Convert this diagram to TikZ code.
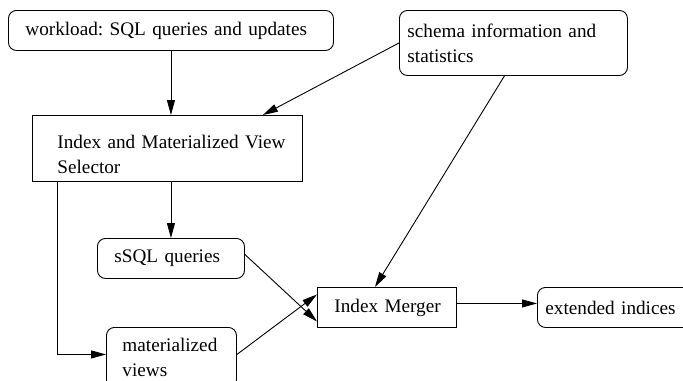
\documentclass[tikz,border=0pt]{standalone}
\usepackage{fontspec}
\setmainfont{Liberation Serif}
\usetikzlibrary{arrows.meta}
\begin{document}
\begin{tikzpicture}[x=1bp,y=-1bp,
  font=\fontsize{19.2bp}{25bp}\selectfont\frenchspacing,
  box/.style={draw, line width=0.9bp, anchor=north west, inner ysep=0pt, align=left},
  rbox/.style={box, rounded corners=8bp},
  arr/.style={line width=0.9bp, -{Triangle[length=15bp,width=8bp]}}]
\useasboundingbox (0,0) rectangle (683,380);
\clip (0,0) rectangle (683,380);
\node[rbox, inner xsep=17bp, text width=291bp, minimum height=40bp] (work) at (8,10) {\mbox{workload: SQL queries and updates}};
\node[rbox, inner xsep=8bp, text width=212bp, minimum height=65bp] (schema) at (399,10) {\mbox{schema information and}\\statistics};
\node[box, inner xsep=25bp, text width=220bp, minimum height=66bp] (sel) at (32,115) {\rule{0pt}{25bp}\mbox{Index and Materialized View}\\Selector};
\node[rbox, inner xsep=17bp, text width=113bp, minimum height=40bp] (ssql) at (97,238) {\mbox{sSQL queries}};
\node[rbox, inner xsep=16bp, text width=98bp, minimum height=60bp] (mat) at (106,327) {\mbox{materialized}\\views};
\node[box, inner xsep=17bp, text width=105bp, minimum height=40bp] (merger) at (317,287) {\mbox{Index Merger}};
\node[rbox, inner xsep=8bp, text width=154bp, minimum height=40bp] (ext) at (537,287) {\mbox{extended indices}};
\draw[arr] (work.south) -- (work.south |- sel.north);
\draw[arr] (schema.west) -- ([xshift=-40bp]sel.north east);
\draw[arr] ([xshift=-9bp]schema.south) -- ([xshift=-12bp]merger.north);
\draw[arr] (ssql.north |- sel.south) -- (ssql.north);
\draw[arr] ([yshift=4bp]ssql.east) -- ([yshift=-14bp]merger.west);
\draw[arr] ([yshift=3bp]mat.east) -- ([yshift=13bp]merger.west);
\draw[arr] ([yshift=4bp]merger.east) -- ([yshift=4bp]merger.east -| ext.west);
\draw[arr] ([xshift=25bp]sel.south west) |- ([yshift=3bp]mat.west);
\end{tikzpicture}
\end{document}
